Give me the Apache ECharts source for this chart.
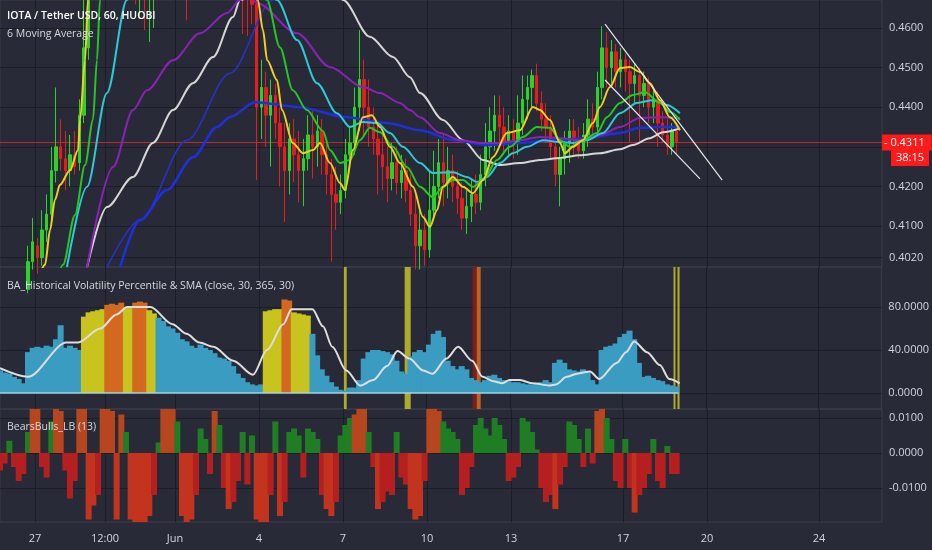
<!DOCTYPE html>
<html><head><meta charset="utf-8">
<script src="https://cdn.jsdelivr.net/npm/echarts@6/dist/echarts.min.js"></script>
<style>html,body{margin:0;padding:0;background:#282b37;overflow:hidden}#c{width:932px;height:550px}</style>
</head><body><div id="c"></div><script>
// ---------- DATA ----------
// time axis: hours since 25 May 18:00
const xTickHours  = [30, 90, 150, 222, 294, 366, 438, 534, 606, 702];
const xTickLabels = ['27', '12:00', 'Jun', '4', '7', '10', '13', '17', '20', '24'];
const stepHours = 4;

// [open, close, low, high] every 4 hours
const candles = [
[0.392,0.391,0.389,0.394],[0.391,0.393,0.390,0.395],[0.393,0.394,0.391,0.396],[0.394,0.392,0.390,0.396],[0.392,0.391,0.389,0.394],
[0.391,0.394,0.390,0.397],[0.394,0.401,0.393,0.405],[0.401,0.406,0.399,0.412],[0.405,0.402,0.398,0.407],[0.402,0.409,0.400,0.414],
[0.409,0.413,0.406,0.418],[0.413,0.424,0.412,0.430],[0.424,0.430,0.421,0.445],[0.430,0.427,0.424,0.437],[0.427,0.424,0.419,0.434],
[0.424,0.428,0.420,0.433],[0.428,0.425,0.423,0.434],[0.426,0.438,0.424,0.442],[0.438,0.455,0.436,0.468],[0.455,0.475,0.452,0.480],
[0.475,0.482,0.472,0.486],[0.482,0.488,0.478,0.492],[0.488,0.485,0.480,0.494],[0.485,0.490,0.481,0.496],[0.490,0.484,0.479,0.493],
[0.484,0.478,0.472,0.487],[0.478,0.483,0.474,0.488],[0.483,0.479,0.475,0.486],[0.479,0.474,0.470,0.482],[0.474,0.470,0.466,0.478],
[0.470,0.472,0.463,0.476],[0.472,0.468,0.4595,0.475],[0.468,0.471,0.4565,0.474],[0.471,0.475,0.460,0.478],[0.475,0.479,0.470,0.483],
[0.479,0.485,0.476,0.489],[0.485,0.482,0.478,0.490],[0.482,0.486,0.478,0.490],[0.486,0.483,0.476,0.489],[0.483,0.478,0.472,0.486],
[0.478,0.474,0.462,0.481],[0.474,0.477,0.468,0.481],[0.477,0.480,0.472,0.484],[0.480,0.484,0.476,0.488],[0.484,0.481,0.477,0.487],
[0.481,0.485,0.478,0.490],[0.485,0.489,0.482,0.494],[0.489,0.486,0.481,0.492],[0.486,0.482,0.477,0.490],[0.482,0.478,0.473,0.486],
[0.478,0.480,0.472,0.484],[0.480,0.476,0.470,0.483],[0.476,0.473,0.4585,0.479],[0.473,0.470,0.4580,0.476],[0.470,0.466,0.461,0.474],
[0.466,0.440,0.4216,0.470],[0.440,0.445,0.432,0.452],[0.445,0.438,0.430,0.449],[0.438,0.443,0.425,0.447],[0.443,0.436,0.432,0.446],
[0.436,0.430,0.420,0.440],[0.430,0.424,0.411,0.436],[0.424,0.432,0.418,0.436],[0.432,0.428,0.421,0.437],[0.428,0.424,0.416,0.434],
[0.424,0.427,0.415,0.432],[0.427,0.433,0.424,0.438],[0.433,0.430,0.422,0.439],[0.430,0.434,0.425,0.438],[0.434,0.428,0.423,0.437],
[0.428,0.423,0.418,0.431],[0.423,0.418,0.401,0.427],[0.418,0.416,0.409,0.425],[0.416,0.419,0.413,0.423],[0.419,0.428,0.417,0.432],
[0.428,0.431,0.424,0.435],[0.431,0.440,0.428,0.445],[0.440,0.447,0.434,0.4595],[0.447,0.440,0.433,0.452],[0.440,0.435,0.430,0.447],
[0.435,0.432,0.428,0.440],[0.432,0.428,0.418,0.436],[0.428,0.425,0.419,0.433],[0.425,0.422,0.416,0.430],[0.422,0.426,0.419,0.431],
[0.426,0.421,0.418,0.430],[0.421,0.424,0.417,0.428],[0.424,0.419,0.416,0.427],[0.419,0.413,0.410,0.423],[0.413,0.405,0.399,0.418],
[0.405,0.409,0.399,0.415],[0.409,0.404,0.400,0.413],[0.404,0.414,0.402,0.424],[0.414,0.420,0.412,0.429],[0.420,0.426,0.417,0.432],
[0.426,0.421,0.415,0.433],[0.421,0.424,0.417,0.430],[0.424,0.420,0.416,0.428],[0.420,0.417,0.413,0.424],[0.417,0.412,0.409,0.421],
[0.412,0.415,0.408,0.419],[0.415,0.418,0.411,0.422],[0.418,0.416,0.413,0.423],[0.416,0.423,0.414,0.428],[0.423,0.430,0.420,0.436],
[0.430,0.434,0.427,0.440],[0.434,0.438,0.429,0.443],[0.438,0.435,0.430,0.443],[0.435,0.431,0.428,0.440],[0.431,0.434,0.428,0.438],
[0.434,0.431,0.427,0.437],[0.431,0.436,0.428,0.443],[0.436,0.442,0.433,0.448],[0.442,0.445,0.437,0.448],[0.445,0.448,0.440,0.4495],
[0.448,0.441,0.439,0.451],[0.441,0.437,0.434,0.444],[0.437,0.435,0.431,0.441],[0.435,0.430,0.427,0.438],[0.430,0.423,0.420,0.433],
[0.423,0.427,0.415,0.430],[0.427,0.431,0.423,0.434],[0.431,0.434,0.426,0.437],[0.434,0.432,0.428,0.437],[0.432,0.429,0.427,0.435],
[0.429,0.433,0.427,0.436],[0.433,0.437,0.430,0.442],[0.437,0.435,0.432,0.441],[0.435,0.445,0.433,0.449],[0.445,0.455,0.442,0.4605],
[0.455,0.450,0.445,0.459],[0.450,0.454,0.446,0.457],[0.454,0.449,0.445,0.456],[0.449,0.452,0.445,0.455],[0.452,0.449,0.444,0.4535],
[0.449,0.446,0.431,0.452],[0.446,0.448,0.441,0.451],[0.448,0.443,0.431,0.450],[0.443,0.446,0.440,0.449],[0.446,0.440,0.436,0.4475],
[0.440,0.442,0.436,0.445],[0.442,0.436,0.430,0.444],[0.436,0.433,0.431,0.439],[0.433,0.430,0.428,0.437],[0.430,0.434,0.428,0.436],
[0.434,0.4311,0.428,0.436]
];

// moving averages: [hour, price]
const maYellow = [[30,0.3938],[38.6,0.4002],[42.9,0.4090],[47.1,0.4166],[51.4,0.4204],[60,0.4241],[66.9,0.4292],[68.6,0.4368],[72.9,0.4519],[75.4,0.4671],[81.4,0.4772],[103,0.4843],[154,0.4843],[206,0.4792],[221,0.4671],[225.4,0.4595],[229,0.4519],[237.4,0.4469],[241.7,0.4393],[251,0.4310],[259.7,0.4284],[268.3,0.4292],[274.3,0.4310],[282.8,0.4259],[291.4,0.4209],[295.7,0.4191],[302.5,0.4292],[311.1,0.4375],[318.8,0.4380],[325.7,0.4350],[334.2,0.4300],[342.8,0.4259],[354,0.4199],[362.5,0.4123],[368.5,0.4098],[374.5,0.4140],[379.7,0.4199],[388.2,0.4224],[396.8,0.4199],[405.4,0.4183],[414,0.4216],[422.5,0.4274],[434.5,0.4335],[445.6,0.4342],[456.8,0.4401],[462.8,0.4393],[471.4,0.4368],[480,0.4310],[484.2,0.4284],[491.1,0.4300],[499.6,0.4317],[508.2,0.4360],[514.3,0.4401],[522.8,0.4451],[531.4,0.4499],[540,0.4502],[548.5,0.4489],[557,0.4461],[565.7,0.4418],[574.2,0.4375],[582.8,0.4342]];
const maGreen = [[47.1,0.3938],[54,0.4002],[64.3,0.4128],[72.9,0.4254],[79.7,0.4368],[83.1,0.4519],[85.7,0.4671],[94.3,0.4797],[154,0.4873],[214,0.4772],[228.8,0.4671],[240,0.4551],[251,0.4443],[263,0.4393],[276.8,0.4340],[282.8,0.4292],[291.4,0.4259],[300,0.4267],[308.5,0.4317],[317,0.4348],[325.7,0.4337],[336.8,0.4300],[348.8,0.4249],[360,0.4199],[371,0.4173],[379.7,0.4199],[388.2,0.4216],[396.8,0.4216],[405.4,0.4199],[414,0.4216],[426,0.4267],[437,0.4300],[448.2,0.4325],[460.2,0.4350],[471.4,0.4348],[480,0.4317],[488.5,0.4300],[499.6,0.4317],[511.7,0.4335],[520.2,0.4375],[531.4,0.4411],[542.5,0.4431],[552.8,0.4438],[565.7,0.4411],[574.2,0.4388],[582.8,0.4368]];
const maCyan = [[57.4,0.3996],[74.6,0.4199],[91.7,0.4436],[108.8,0.4671],[120,0.4822],[171.4,0.4923],[222.8,0.4721],[237.4,0.4671],[254.6,0.4570],[271.7,0.4461],[288.8,0.4385],[300,0.4350],[311.1,0.4363],[323.1,0.4360],[334.2,0.4335],[345.4,0.4300],[360,0.4259],[371,0.4234],[388.2,0.4236],[400.2,0.4224],[408.8,0.4211],[417.4,0.4224],[428.5,0.4259],[439.6,0.4284],[451.6,0.4300],[465.4,0.4317],[480,0.4312],[491.1,0.4310],[503,0.4317],[516.8,0.4335],[531.4,0.4385],[546,0.4411],[559.6,0.4418],[571.6,0.4406],[582.8,0.4385]];
const maPurple = [[74.6,0.3996],[96.9,0.4249],[114,0.4393],[126,0.4443],[148.3,0.4519],[171.4,0.4587],[194.6,0.4638],[205.7,0.4671],[212.6,0.4685],[220.3,0.4663],[254.6,0.4587],[282.8,0.4502],[311.1,0.4451],[325.7,0.4436],[342.8,0.4411],[351.4,0.4393],[360,0.4375],[377,0.4335],[394.2,0.4317],[411.4,0.4310],[428.5,0.4310],[445.6,0.4317],[462.8,0.4325],[480,0.4322],[497,0.4317],[514.3,0.4330],[531.4,0.4350],[548.5,0.4373],[565.7,0.4375],[582.8,0.4373]];
const maWhite = [[74.6,0.3996],[91.7,0.4148],[114,0.4224],[131.1,0.4310],[148.3,0.4393],[165.4,0.4461],[182.6,0.4527],[199.7,0.4628],[205.7,0.4671],[248.5,0.4772],[282.8,0.4721],[294,0.4671],[317,0.4578],[336.8,0.4527],[351.4,0.4476],[360,0.4436],[379.7,0.4368],[396.8,0.4317],[414,0.4267],[428.5,0.4254],[445.6,0.4259],[462.8,0.4267],[480,0.4272],[497,0.4279],[514.3,0.4284],[531.4,0.4294],[542.5,0.4305],[557,0.4322],[568.3,0.4337],[582.8,0.4347]];
const maBlue = [[102.9,0.3996],[120,0.4115],[143.1,0.4191],[165.4,0.4274],[186,0.4350],[197.1,0.4375],[218.6,0.4413],[254.6,0.4401],[297.4,0.4375],[331.7,0.4360],[360,0.4342],[388.2,0.4317],[417.4,0.4305],[445.6,0.4310],[474,0.4317],[503,0.4322],[531.4,0.4335],[548.5,0.4348],[565.7,0.4350],[582.8,0.4350]];
const maBlueThin = [[91.7,0.3996],[120,0.4115],[160.3,0.4317],[197.1,0.4486],[234,0.4671],[257,0.4772]];

// drawn trend lines [hour, price]
const trendUpper = [[518.6,0.4610],[619,0.4216]];
const trendLower = [[518.6,0.4469],[600,0.4219]];

// historical volatility percentile, every 4 hours
const hvValues = [21,19,18,15,13,9,38,42,43,42, 44,43,50,63,42,44,42,40,71,75, 76,77,78,82,83,82,84,79,79,84,
 85,84,77,74,70,67,62,60,56,50, 48,44,42,45,42,40,37,33,32,30, 25,18,14,10,8,7,8,76,77,78,
 78,87,86,75,74,73,72,55,35,22, 16,10,6,3,2,5,5,12,32,38, 40,40,39,38,36,30,20,18,34,38,
 40,38,45,55,58,52,30,25,22,25, 22,14,12,10,12,16,17,14,12,11, 10,10,9,8,8,9,10,12,10,28,
 31,28,22,21,20,22,20,12,8,40, 43,44,46,52,55,58,50,28,15,16, 14,12,11,8,7,6];
// SMA of HV percentile: [hour, value]
const hvSma = [[0,23],[24,15],[57,47],[67,47],[86,60],[100,73],[109,80],[129,80],[148,64],[160,55],[171,47],[183,43],[200,30],[217,17],[229,40],[243,64],[250,78],[268,78],[277,62],[285,43],[297,21],[309,7],[320,12],[332,25],[341,39],[351,32],[363,21],[371,18],[383,32],[393,43],[405,30],[414,15],[423,11],[431,9],[437,12],[446,12],[457,9],[471,7],[477,8],[486,15],[495,18],[506,20],[514,13],[529,28],[537,38],[544,48],[555,38],[566,26],[574,13],[583,9]];
// highlighted hours in the HV pane
const stripeStart = [294.9, 347.1, 405.4, 408.9, 577.7, 581.1];
const stripeEnd   = [297.4, 352.3, 408.9, 412.3, 579.4, 582.9];
const stripeKind  = ['high', 'high', 'extreme', 'top', 'high', 'high'];

// BearsBulls, every 4 hours
const bbValues = [-0.005,-0.003,0.0035,-0.004,-0.008,-0.006,0.006,0.014,0.014,-0.004,
 -0.007,0.009,0.014,0.012,-0.005,-0.013,-0.008,0.014,0.014,-0.019,
 -0.015,-0.012,0.014,0.014,0.012,-0.019,0.011,0.006,-0.019,-0.02,
 -0.02,-0.02,-0.018,-0.012,0.003,0.014,0.014,0.014,0.009,-0.018,
 -0.02,-0.019,-0.012,0.007,0.004,-0.006,0.012,0.008,-0.01,-0.016,
 -0.014,-0.008,0.006,-0.009,0.005,-0.019,-0.02,-0.02,-0.012,0.009,
 -0.018,-0.014,0.006,0.007,0.005,-0.007,0.007,0.006,0.004,-0.012,
 -0.016,-0.018,-0.014,0.005,0.008,0.010,0.011,0.014,0.014,0.006,
 -0.004,-0.016,-0.014,-0.011,-0.012,0.006,-0.007,-0.009,-0.016,-0.019,
 -0.018,-0.008,0.014,0.014,0.012,0.009,0.007,0.006,0.004,-0.012,
 -0.010,-0.004,0.008,0.010,0.007,0.005,0.010,0.008,0.004,-0.008,
 -0.007,-0.004,0.010,0.009,0.006,0.001,-0.010,-0.014,-0.012,-0.016,
 -0.009,-0.004,0.009,0.008,0.004,-0.004,0.007,-0.003,0.012,0.014,
 0.010,0.004,-0.008,-0.010,0.004,-0.010,-0.017,-0.012,-0.010,-0.006,
 0.004,-0.008,-0.010,0.002,-0.006,-0.006];

const priceTicks  = [0.402, 0.41, 0.42, 0.43, 0.44, 0.45, 0.46];
const priceLabels = [0.402, 0.41, 0.42, 0.44, 0.45, 0.46];
const hvTicks = [0, 40, 80];
const bbTicks = [-0.01, 0, 0.01];
const countdown = '38:15';

// ---------- STYLE ----------
const BG = '#282b37', GRIDC = '#1c1e26', SEP = '#3b3e49', TXT = '#d1d4dc';
const FONT = '"Open Sans", sans-serif';
const TAG = '#ff1a1a';
const lastPrice = candles[candles.length - 1][1];
const hours = hvValues.map((_, i) => i * stepHours);
const X_MAX = 756;

const grids = [
  {left: 0, right: 50, top: 0, height: 267},
  {left: 0, right: 50, top: 267, height: 142},
  {left: 0, right: 50, top: 409, height: 113}
].map(g => Object.assign(g, {show: true, borderColor: SEP, borderWidth: 1, backgroundColor: 'transparent'}));

const xAxes = [0, 1, 2].map(i => ({
  type: 'value', gridIndex: i, min: 0, max: X_MAX,
  axisLine: {show: false},
  axisTick: {show: false, customValues: xTickHours},
  splitLine: {show: true, lineStyle: {color: GRIDC, width: 1}},
  axisLabel: {
    show: i === 2, customValues: xTickHours, color: TXT, fontFamily: FONT, fontSize: 11, margin: 11,
    formatter: v => xTickLabels[xTickHours.indexOf(v)]
  }
}));

function yAxis(idx, min, max, ticks, labels, fmt) {
  return {
    type: 'value', gridIndex: idx, position: 'right', min, max, scale: true,
    axisLine: {show: false},
    axisTick: {show: false, customValues: ticks},
    splitLine: {show: true, lineStyle: {color: GRIDC, width: 1}},
    axisLabel: {customValues: labels, color: TXT, fontFamily: FONT, fontSize: 11, margin: 7, formatter: fmt}
  };
}
const yAxes = [
  yAxis(0, 0.39965, 0.4671, priceTicks, priceLabels, v => v.toFixed(4)),
  yAxis(1, -14.9, 117.2, hvTicks, hvTicks, v => v.toFixed(4)),
  yAxis(2, -0.0197, 0.01257, bbTicks, bbTicks, v => (Math.abs(v) < 1e-9 ? 0 : v).toFixed(4))
];

function ma(data, color, width, z) {
  return {type: 'line', xAxisIndex: 0, yAxisIndex: 0, data, smooth: 0.3, smoothMonotone: 'x', showSymbol: false, clip: true,
    lineStyle: {color, width}, z: z || 4, silent: true};
}

const hvColor = v => v >= 81 ? '#d2691e' : (v >= 71 ? '#c8c31e' : '#3b9cc2');
const stripeColor = {high: '#b6b12a', extreme: '#7e1d1d', top: '#c8661f'};
const bbColor = v => v >= 0 ? (v >= 0.011 ? '#b7461e' : '#1f7d24') : (v <= -0.015 ? '#c2341d' : '#b51f1f');

const option = {
  backgroundColor: BG,
  animation: false,
  grid: grids,
  xAxis: xAxes,
  yAxis: yAxes,
  series: [
    {
      type: 'line', xAxisIndex: 0, yAxisIndex: 0, data: [[0, lastPrice], [X_MAX, lastPrice]],
      showSymbol: false, silent: true, z: 2, clip: false,
      itemStyle: {color: TAG},
      lineStyle: {color: '#d9262b', width: 1, opacity: 0.85},
      endLabel: {show: true, distance: 0, formatter: '- ' + lastPrice.toFixed(4), color: '#fff',
        backgroundColor: TAG, padding: [3, 7, 2, 2], fontFamily: FONT, fontSize: 11}
    },
    {
      type: 'candlestick', xAxisIndex: 0, yAxisIndex: 0, clip: true, barWidth: 3, z: 3,
      data: candles.map((c, i) => [i * stepHours, c[0], c[1], c[2], c[3]]),
      encode: {x: 0, y: [1, 2, 3, 4]},
      itemStyle: {color: '#2bd22b', color0: '#e81c1c', borderColor: '#2bd22b', borderColor0: '#e81c1c', borderWidth: 1}
    },
    ma(maBlueThin, '#2a2fd0', 1.5),
    ma(maWhite, '#d6d6d6', 2),
    ma(maBlue, '#1f2fe0', 2.5),
    ma(maPurple, '#8a23b5', 2),
    ma(maCyan, '#2cc9d6', 2),
    ma(maGreen, '#23c823', 2),
    ma(maYellow, '#f0cf1e', 2),
    {type: 'line', xAxisIndex: 0, yAxisIndex: 0, data: trendUpper, showSymbol: false, lineStyle: {color: '#e6e6e6', width: 1.2}, z: 6, silent: true},
    {type: 'line', xAxisIndex: 0, yAxisIndex: 0, data: trendLower, showSymbol: false, lineStyle: {color: '#e6e6e6', width: 1.2}, z: 6, silent: true},

    {
      type: 'bar', xAxisIndex: 1, yAxisIndex: 1, barWidth: 6, clip: true, z: 2,
      data: hours.map((h, i) => ({value: [h, hvValues[i]], itemStyle: {color: hvColor(hvValues[i])}}))
    },
    {
      type: 'line', xAxisIndex: 1, yAxisIndex: 1, data: [[0, 0], [hours[hours.length - 1] + 2, 0]],
      showSymbol: false, lineStyle: {color: '#a7d3e2', width: 1.5}, z: 5, silent: true,
      markArea: {
        silent: true,
        data: stripeStart.map((s, i) => [{xAxis: s, itemStyle: {color: stripeColor[stripeKind[i]], opacity: 0.95}}, {xAxis: stripeEnd[i]}])
      }
    },
    {type: 'line', xAxisIndex: 1, yAxisIndex: 1, data: hvSma, smooth: 0.3, smoothMonotone: 'x', showSymbol: false, lineStyle: {color: '#dedede', width: 2}, z: 6, silent: true},

    {
      type: 'bar', xAxisIndex: 2, yAxisIndex: 2, barWidth: 6, clip: true,
      data: hours.map((h, i) => ({value: [h, bbValues[i]], itemStyle: {color: bbColor(bbValues[i])}}))
    }
  ],
  graphic: [
    {type: 'text', x: 7, y: 16, z: 100, style: {text: 'IOTA / Tether USD, 60, HUOBI', fill: '#ffffff', font: '600 10.5px ' + FONT, verticalAlign: 'middle'}},
    {type: 'text', x: 7, y: 34, z: 100, style: {text: '6 Moving Average', fill: '#d6d8de', font: '10.5px ' + FONT, verticalAlign: 'middle'}},
    {type: 'text', x: 7, y: 286, z: 100, style: {text: 'BA_Historical Volatility Percentile & SMA (close, 30, 365, 30)', fill: '#d6d8de', font: '10.5px ' + FONT, verticalAlign: 'middle'}},
    {type: 'text', x: 7, y: 427, z: 100, style: {text: 'BearsBulls_LB (13)', fill: '#d6d8de', font: '10.5px ' + FONT, verticalAlign: 'middle'}},
    {type: 'text', x: 891, y: 158, z: 100, style: {text: countdown, fill: '#fff', font: '11px ' + FONT, verticalAlign: 'middle', backgroundColor: TAG, padding: [3, 5, 2, 5]}}
  ]
};
const chart = echarts.init(document.getElementById('c'));
chart.setOption(option);
</script></body></html>
